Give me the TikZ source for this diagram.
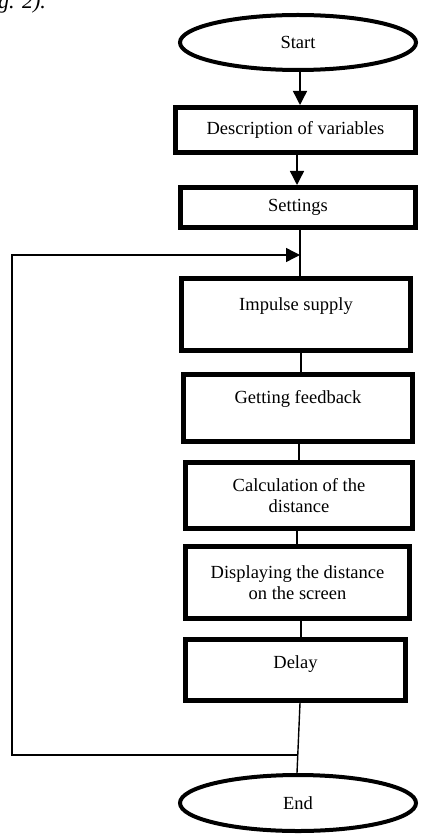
\documentclass[tikz,border=0pt]{standalone}
\usepackage{fontspec}
\setmainfont{Liberation Serif}
\usetikzlibrary{arrows.meta,shapes.geometric}
\tikzset{
  boxnode/.style={draw, line width=5pt, rectangle, inner sep=0pt, align=center,
    font=\fontsize{18.5}{21.5}\selectfont},
  termnode/.style={draw, line width=4pt, ellipse, inner sep=0pt,
    font=\fontsize{18.5}{21.5}\selectfont},
  conn/.style={line width=1.4pt},
  arr/.style={line width=1.4pt, -{Triangle[width=14pt,length=14pt]}}
}
\begin{document}
\begin{tikzpicture}[x=1pt,y=-1pt]
\useasboundingbox (0,0) rectangle (420,834);
\node[anchor=base west, inner sep=0pt, font=\fontsize{22}{24}\selectfont\itshape] (cap) at (-2,9) {g. 2).};
\node[termnode, minimum width=236pt, minimum height=55pt] (start) at (298,42.5) {Start};
\node[boxnode, minimum width=240pt, minimum height=45pt] (desc) at (295.5,130) {Description of variables};
\node[boxnode, minimum width=235pt, minimum height=40pt] (set) at (298,207.5) {Settings};
\node[boxnode, minimum width=229pt, minimum height=72pt] (imp) at (296,314.5) {Impulse supply\\\mbox{}};
\node[boxnode, minimum width=229pt, minimum height=67pt] (fb) at (298,408) {Getting feedback\\\mbox{}};
\node[boxnode, minimum width=227pt, minimum height=66pt] (calc) at (299,495.5) {Calculation of the\\distance};
\node[boxnode, minimum width=224pt, minimum height=72pt] (disp) at (297.5,582.5) {Displaying the distance\\on the screen};
\node[boxnode, minimum width=220pt, minimum height=61pt] (delay) at (295.5,670) {Delay\\[-6pt]\mbox{}};
\node[termnode, minimum width=236pt, minimum height=56pt] (end) at (298,803) {End};
\coordinate (lp) at (300,255);
\coordinate (jn) at (298,755);
\coordinate (c1) at (12,755);
\coordinate (c2) at (12,255);
\draw[arr] (300,0 |- start.south) -- (300,0 |- desc.north);
\draw[arr] (297,0 |- desc.south) -- (297,0 |- set.north);
\draw[conn] (300,0 |- set.south) -- (300,0 |- imp.north);
\draw[conn] (301,0 |- imp.south) -- (301,0 |- fb.north);
\draw[conn] (299,0 |- fb.south) -- (299,0 |- calc.north);
\draw[conn] (297,0 |- calc.south) -- (297,0 |- disp.north);
\draw[conn] (301,0 |- disp.south) -- (301,0 |- delay.north);
\draw[conn] (300,0 |- delay.south) -- (297,0 |- end.north);
\draw[arr] (jn) -- (c1) -- (c2) -- (lp);
\end{tikzpicture}
\end{document}
